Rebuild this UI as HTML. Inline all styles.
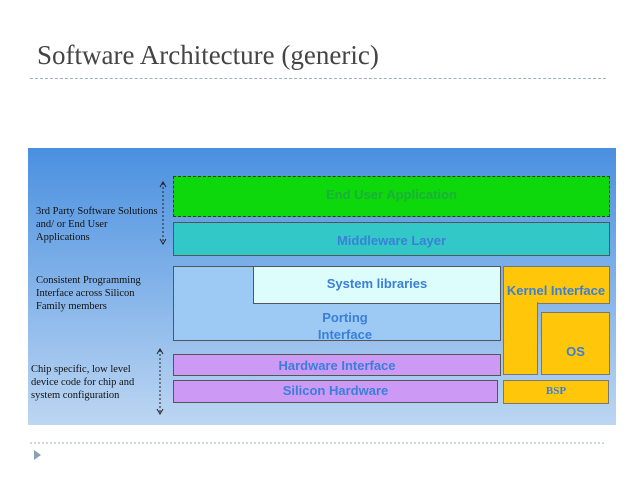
<!DOCTYPE html>
<html><head><style>
body{margin:0;width:638px;height:479px;background:#fff;position:relative;overflow:hidden;font-family:"Liberation Sans",sans-serif}
.a{position:absolute;box-sizing:border-box}
.t{position:absolute;font-weight:bold;color:#3a7fd8;text-align:center;white-space:nowrap}
.s{position:absolute;font-family:"Liberation Serif",serif;font-size:10.5px;line-height:13px;color:#111}
</style></head><body>
<div class="a" style="left:37px;top:40px;font-family:'Liberation Serif',serif;font-size:27px;color:#444">Software Architecture (generic)</div>
<div class="a" style="left:30px;top:78px;width:576px;border-top:1px dashed #9bb0c8"></div>
<div class="a" style="left:28px;top:148px;width:588px;height:277px;background:linear-gradient(#4a90e0,#bcd6f2)"></div>
<div class="a" style="left:173px;top:176px;width:437px;height:41px;background:#0cd80c;border:1px dashed #333"></div>
<div class="t" style="left:173px;top:187px;width:437px;font-size:13px;color:#1ab03a">End User Application</div>
<div class="a" style="left:173px;top:222px;width:437px;height:34px;background:#33c8c8;border:1px solid #555"></div>
<div class="t" style="left:173px;top:233px;width:437px;font-size:13px">Middleware Layer</div>
<div class="a" style="left:173px;top:266px;width:328px;height:75px;background:#9ccaf5;border:1px solid #555"></div>
<div class="a" style="left:253px;top:266px;width:248px;height:38px;background:#ddfcfc;border:1px solid #555"></div>
<div class="t" style="left:253px;top:276px;width:248px;font-size:13px">System libraries</div>
<div class="t" style="left:280px;top:309px;width:130px;font-size:13px;line-height:17px">Porting<br>Interface</div>
<div class="a" style="left:503px;top:266px;width:107px;height:38px;background:#ffc60a;border:1px solid #777"></div>
<div class="a" style="left:503px;top:302px;width:35px;height:73px;background:#ffc60a;border:1px solid #777;border-top:none"></div>
<div class="a" style="left:504px;top:301px;width:33px;height:3px;background:#ffc60a"></div>
<div class="t" style="left:501px;top:283px;width:110px;font-size:13px">Kernel Interface</div>
<div class="a" style="left:541px;top:312px;width:69px;height:63px;background:#ffc60a;border:1px solid #777"></div>
<div class="t" style="left:541px;top:344px;width:69px;font-size:13px">OS</div>
<div class="a" style="left:173px;top:354px;width:328px;height:22px;background:#cc99f5;border:1px solid #555"></div>
<div class="t" style="left:173px;top:358px;width:328px;font-size:13px">Hardware Interface</div>
<div class="a" style="left:173px;top:380px;width:325px;height:23px;background:#cc99f5;border:1px solid #555"></div>
<div class="t" style="left:173px;top:383px;width:325px;font-size:13px">Silicon Hardware</div>
<div class="a" style="left:503px;top:380px;width:106px;height:24px;background:#ffc60a;border:1px solid #777"></div>
<div class="t" style="left:503px;top:385px;width:106px;font-size:11px;font-family:'Liberation Serif',serif">BSP</div>
<div class="s" style="left:36px;top:205px">3rd Party Software Solutions<br>and/ or End User<br>Applications</div>
<div class="s" style="left:36px;top:274px">Consistent Programming<br>Interface across Silicon<br>Family members</div>
<div class="s" style="left:31px;top:363px">Chip specific, low level<br>device code for chip and<br>system configuration</div>
<svg class="a" style="left:0;top:0" width="638" height="479">
<g stroke="#222" stroke-width="1" fill="none">
<line x1="163" y1="183" x2="163" y2="243" stroke-dasharray="2,2"/><polyline points="160,187 163,182 166,187"/><polyline points="160,239 163,244 166,239"/>
<line x1="160" y1="350" x2="160" y2="413" stroke-dasharray="2,2"/><polyline points="157,354 160,349 163,354"/><polyline points="157,409 160,414 163,409"/>
</g>
<line x1="30" y1="443" x2="606" y2="443" stroke="#9bb0c8" stroke-dasharray="2,2"/>
<polygon points="34,450 34,460 41,455" fill="#8aa0b8"/>
</svg>
</body></html>
